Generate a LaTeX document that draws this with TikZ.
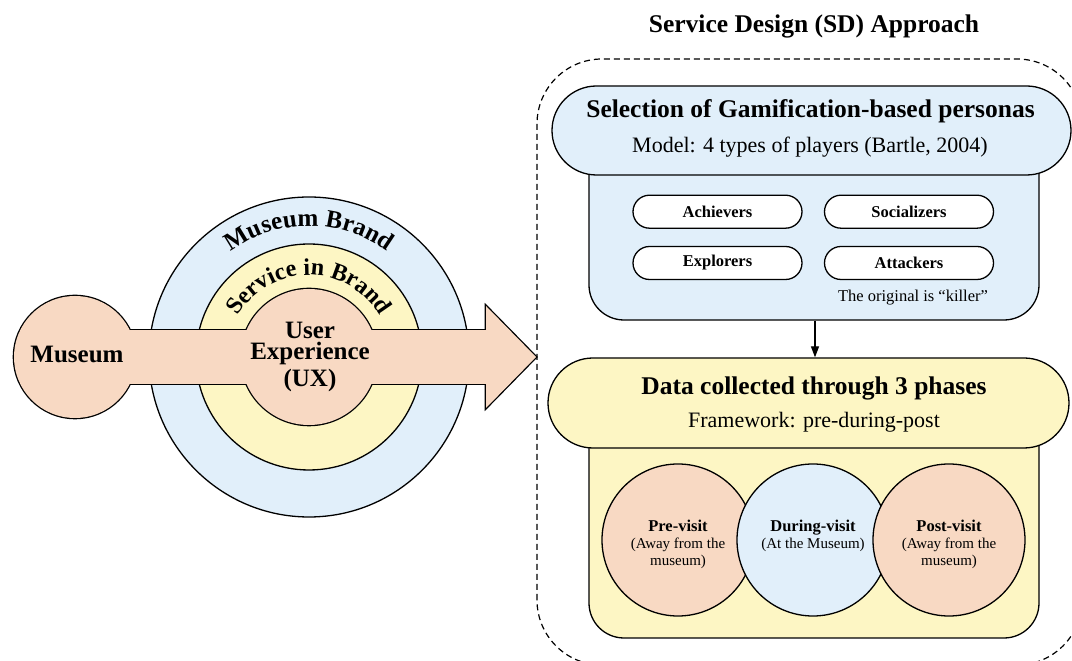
\documentclass[tikz,border=0pt]{standalone}
\usepackage{fontspec}
\setmainfont{Liberation Serif}
\usetikzlibrary{decorations.text,arrows.meta}
\definecolor{peach}{RGB}{248,217,195}
\definecolor{lblue}{RGB}{225,239,250}
\definecolor{lyellow}{RGB}{253,246,196}
\newcommand{\fsz}[1]{\fontsize{#1}{#1}\selectfont}
\begin{document}
\begin{tikzpicture}[x=1pt,y=1pt,line width=1.3pt,
  ring/.style={circle,draw,inner sep=0pt},
  bigpill/.style={draw,inner sep=0pt,rounded corners=44.5pt,minimum height=89pt},
  bodybox/.style={draw,inner sep=0pt,rounded corners=35pt,minimum width=450pt},
  persona/.style={draw,fill=white,inner sep=0pt,rounded corners=16.5pt,minimum width=169pt,minimum height=33pt,font=\fsz{16.5}\bfseries},
  phase/.style={circle,draw,inner sep=0pt,minimum size=152pt},
  phasetext/.style={align=center,font=\fontsize{15}{17}\selectfont},
  headtext/.style={anchor=base,font=\fsz{25.5}\bfseries},
  subtext/.style={anchor=base,font=\fsz{22}}]
\useasboundingbox (0,0) rectangle (1072,661);
\fill[white] (0,0) rectangle (1072,661);
% left: rings
\node[ring,fill=lblue,minimum size=320pt] (brand) at (309,304) {};
\node[ring,fill=lyellow,minimum size=226pt] (service) at (309,304) {};
% union arrow
\begin{scope}[line width=2.6pt]
  \draw (75,304) circle[radius=61];
  \draw (75,277) rectangle (486,331);
  \draw (309,304) circle[radius=68];
  \draw (486,355) -- (536,304) -- (486,253) -- cycle;
\end{scope}
\begin{scope}[fill=peach]
  \fill (75,304) circle[radius=61];
  \fill (75,277) rectangle (486,331);
  \fill (309,304) circle[radius=68];
  \fill (486,355) -- (536,304) -- (486,253) -- cycle;
\end{scope}
\path[decorate,decoration={text along path,text align=center,
  text={|\fsz{25}\bfseries|Museum Brand}}]
  (309,304) ++(180:131) arc[start angle=180,end angle=0,radius=131];
\path[decorate,decoration={text along path,text align=center,
  text={|\fsz{24}\bfseries|Service in Brand}}]
  (309,304) ++(180:82) arc[start angle=180,end angle=0,radius=82];
\node[anchor=base,font=\fsz{25}\bfseries] (museum) at (77,298.3) {Museum};
\node[align=center,font=\fontsize{25}{21}\selectfont\bfseries] (ux) at (310,304) {User\\Experience\\[4pt](UX)};
% right
\node[headtext] (sdtitle) at (814,628) {Service Design (SD) Approach};
\draw[dash pattern=on 6pt off 4pt,line width=1.2pt,rounded corners=65pt] (537,-4) rectangle (1082,602);
\node[bodybox,fill=lblue,minimum height=189pt] (selbody) at (814,435.5) {};
\node[bigpill,fill=lblue,minimum width=519pt] (selpill) at (811.5,530.5) {};
\node[headtext] (seltitle) at (810.5,543) {Selection of Gamification-based personas};
\node[subtext] (selmodel) at (810,508) {Model: 4 types of players (Bartle, 2004)};
\node[persona] (ach) at (717.5,449.3) {Achievers};
\node[persona] (soc) at (909,449.3) {Socializers};
\node[persona] (exp) at (717.5,398) {Explorers};
\node[persona] (att) at (909,398) {Attackers};
\node[anchor=base,font=\fsz{16.5}] (killer) at (913,359.3) {The original is “killer”};
\node[bodybox,fill=lyellow,minimum height=237pt] (databody) at (814,141.5) {};
\node[bigpill,fill=lyellow,minimum width=521pt,minimum height=90pt,rounded corners=45pt] (datapill) at (808.5,258) {};
\node[headtext] (datatitle) at (814,266) {Data collected through 3 phases};
\node[subtext] (dataframe) at (814,233) {Framework: pre-during-post};
\coordinate (ax) at (815,0);
\draw[-{Triangle[length=11pt,width=8pt]}] (ax |- selbody.south) -- (ax |- datapill.north);
\node[phase,fill=peach] (pre) at (678,121) {};
\node[phase,fill=lblue] (during) at (813,121) {};
\node[phase,fill=peach] (post) at (949,121) {};
\node[phasetext] (pretext) at ([yshift=-4.5pt]pre.center) {{\fontsize{16.5}{17}\selectfont\bfseries Pre-visit}\\(Away from the\\museum)};
\node[phasetext] (duringtext) at ([yshift=4pt]during.center) {{\fontsize{16.5}{17}\selectfont\bfseries During-visit}\\(At the Museum)};
\node[phasetext] (posttext) at ([yshift=-4.5pt]post.center) {{\fontsize{16.5}{17}\selectfont\bfseries Post-visit}\\(Away from the\\museum)};
\end{tikzpicture}
\end{document}
